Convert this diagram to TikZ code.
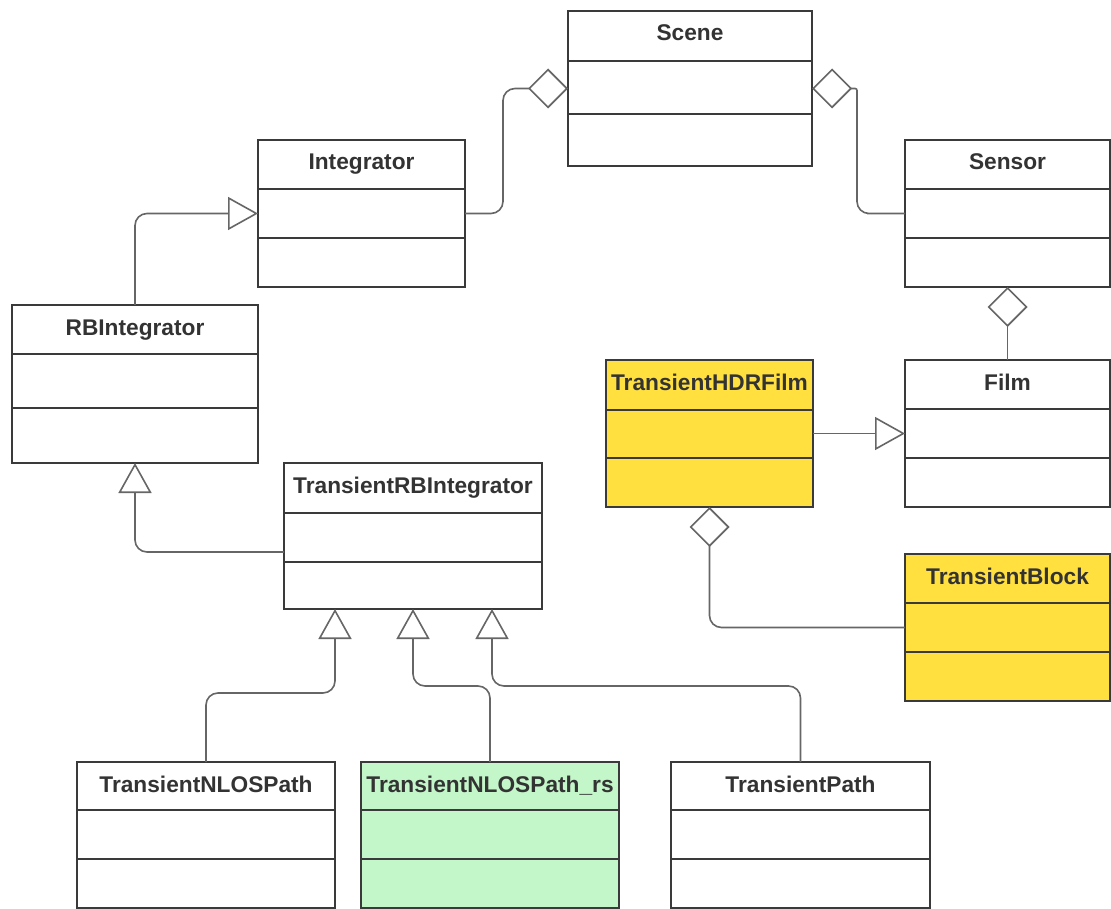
\documentclass[tikz,border=0pt]{standalone}
\usepackage{fontspec}
\setmainfont{Liberation Sans}
\usetikzlibrary{arrows.meta,calc}
\definecolor{boxline}{HTML}{3A3A3A}
\definecolor{connline}{HTML}{666666}
\definecolor{txt}{HTML}{333333}
\definecolor{ylw}{HTML}{FFE03F}
\definecolor{grn}{HTML}{C3F6C8}
\tikzset{
  cls/.style={draw=boxline, line width=2.5pt, rectangle, outer sep=0pt, inner sep=0pt},
  divline/.style={draw=boxline, line width=2.5pt},
  clstitle/.style={text=txt, font=\fontsize{22.7}{26}\selectfont\bfseries, inner sep=0pt},
  conn/.style={draw=connline, line width=1.6pt, rounded corners=12pt},
  gen/.style={conn, -{Triangle[open, length=30pt, width=33pt]}},
  agg/.style={conn, -{Diamond[open, length=40pt, width=40pt]}},
}
\newcommand\umlclass[9]{%
  \node[cls, fill=#9, minimum width=#4pt, minimum height=#5pt, anchor=north west] (#1) at (#2,#3) {};
  \node[clstitle, anchor=base] (#1-t) at ($(#1.north)+(0,30)$) {#8};
  \draw[divline] ($(#1.north west)+(0,#6)$) -- ($(#1.north east)+(0,#6)$);
  \draw[divline] ($(#1.north west)+(0,#7)$) -- ($(#1.north east)+(0,#7)$);
}
\begin{document}
\begin{tikzpicture}[x=1pt,y=-1pt]
\useasboundingbox[fill=white] (0,0) rectangle (1111,909);
\umlclass{scene}{568}{11}{244}{155}{50}{103}{Scene}{white}
\umlclass{integrator}{258}{140}{207}{147}{49}{98}{Integrator}{white}
\umlclass{sensor}{905}{140}{205}{147}{49}{98}{Sensor}{white}
\umlclass{rbint}{12}{305}{246}{158}{49}{103}{RBIntegrator}{white}
\umlclass{hdr}{606}{360}{207}{147}{50}{98}{TransientHDRFilm}{ylw}
\umlclass{film}{905}{360}{205}{147}{49}{98}{Film}{white}
\umlclass{trbi}{284}{463}{258}{146}{50}{99}{TransientRBIntegrator}{white}
\umlclass{tb}{905}{554}{205}{147}{49}{98}{TransientBlock}{ylw}
\umlclass{nlos}{77}{762}{258}{146}{48}{97}{TransientNLOSPath}{white}
\umlclass{rs}{361}{762}{258}{146}{48}{97}{TransientNLOSPath\_rs}{grn}
\umlclass{tp}{671}{762}{259}{146}{48}{97}{TransientPath}{white}
% aggregations
\draw[agg] (integrator.east) -| ($(scene.west)+(-65,0)$) -- (scene.west);
\draw[agg, rounded corners=2pt] (sensor.west) -- ++(-36,0) [rounded corners=12pt] -- ($(scene.east)+(45,125)$) [rounded corners=2pt] -- ($(scene.east)+(45,0)$) -- (scene.east);
\draw[agg] (film.north) -- (sensor.south);
\draw[agg] (tb.west) -| (hdr.south);
% generalizations
\draw[gen] (rbint.north) |- (integrator.west);
\draw[gen] ([yshift=-16pt]trbi.west) -| (rbint.south);
\draw[gen] (hdr.east) -- (film.west);
\draw[gen] (nlos.north) |- ([xshift=-78pt,yshift=-84pt]trbi.south) -- ([xshift=-78pt]trbi.south);
\draw[gen] (rs.north) |- ([yshift=-77pt]trbi.south) -- (trbi.south);
\draw[gen] (tp.north) |- ([xshift=79pt,yshift=-77pt]trbi.south) -- ([xshift=79pt]trbi.south);
\end{tikzpicture}
\end{document}
